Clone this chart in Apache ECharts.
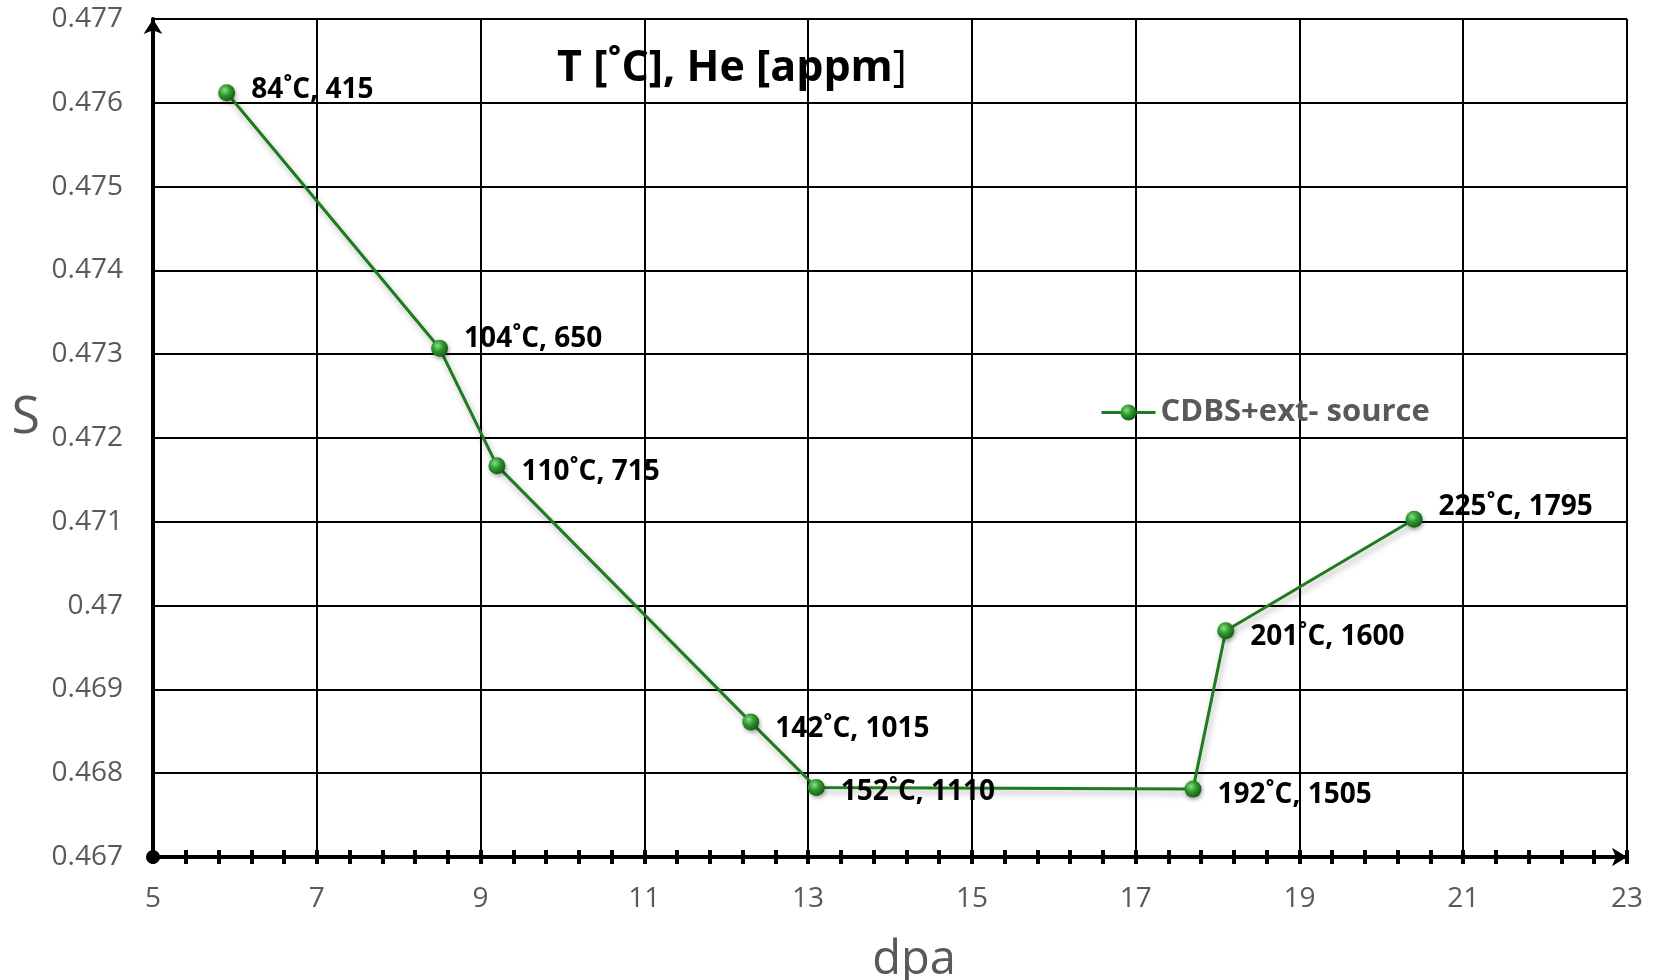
<!DOCTYPE html>
<html>
<head>
<meta charset="utf-8">
<title>S vs dpa</title>
<script src="https://cdn.jsdelivr.net/npm/echarts@6/dist/echarts.min.js"></script>
<style>
  html, body { margin: 0; padding: 0; background: #ffffff; }
  #chart { width: 1658px; height: 980px; }
</style>
</head>
<body>
<div id="chart"></div>
<script>
// Measured S parameter against damage dose, with irradiation temperature and helium content per point
const dpa = [5.9, 8.5, 9.2, 12.3, 13.1, 17.7, 18.1, 20.4];
const sParam = [0.47612, 0.47307, 0.47167, 0.46861, 0.46783, 0.46781, 0.46970, 0.47103];
const tempC = [84, 104, 110, 142, 152, 192, 201, 225];
const heAppm = [415, 650, 715, 1015, 1110, 1505, 1600, 1795];
const seriesName = 'CDBS+ext- source';

// vertical nudges for the point labels (px), kept apart from the data
const labelShift = [-3, -9, 6, 7, 5, 6, 6, -12];

const FONT = "'Open Sans', 'Noto Sans', sans-serif";
const GREY = '#595959';

const points = dpa.map((x, i) => ({
  value: [x, sParam[i]],
  label: { offset: [0, labelShift[i]] }
}));

const sphere = {
  type: 'radial', x: 0.38, y: 0.35, r: 0.7,
  colorStops: [
    { offset: 0, color: '#8edc8e' },
    { offset: 0.45, color: '#2f9a2f' },
    { offset: 1, color: '#125612' }
  ]
};

const chart = echarts.init(document.getElementById('chart'), null, { renderer: 'canvas' });

chart.setOption({
  animation: false,
  backgroundColor: '#ffffff',
  title: {
    text: '{b|T [˚C], He [appm}{r|]}',
    left: 727,
    top: 42,
    textAlign: 'center',
    textStyle: {
      rich: {
        b: { fontFamily: FONT, fontWeight: 'bold', fontSize: 43, color: '#000000' },
        r: { fontFamily: FONT, fontWeight: 'normal', fontSize: 43, color: '#000000' }
      }
    }
  },
  legend: {
    left: 1095,
    top: 392,
    itemWidth: 54,
    itemHeight: 20,
    itemGap: 10,
    lineStyle: { width: 3 },
    textStyle: { fontFamily: FONT, fontWeight: 'bold', fontSize: 31, color: GREY },
    data: [seriesName]
  },
  grid: { left: 153, right: 31, top: 19, bottom: 123, containLabel: false, outerBoundsMode: 'none' },
  xAxis: [
    {
      type: 'value',
      min: 4.999999, max: 23, interval: 2,
      name: 'dpa',
      nameLocation: 'middle',
      nameGap: 80,
      nameTextStyle: { fontFamily: FONT, fontSize: 47, color: GREY, padding: [0, 0, 0, 48] },
      axisLine: {
        show: true, onZero: false,
        symbol: ['circle', 'arrow'], symbolSize: [14, 15],
        lineStyle: { color: '#000000', width: 4 }
      },
      axisTick: { show: true, inside: false, length: 7, lineStyle: { color: '#000000', width: 4 } },
      minorTick: { show: true, splitNumber: 5, length: 7, lineStyle: { color: '#000000', width: 4 } },
      axisLabel: {
        margin: 28, fontFamily: FONT, fontSize: 28, color: GREY,
        formatter: v => String(Math.round(v))
      },
      splitLine: { show: true, lineStyle: { color: '#000000', width: 2 } }
    },
    {
      // second pass of the same scale: tick marks on the inner side of the axis
      type: 'value',
      min: 4.999999, max: 23, interval: 2,
      position: 'bottom',
      axisLine: { show: false },
      axisTick: { show: true, inside: true, length: 7, lineStyle: { color: '#000000', width: 4 } },
      minorTick: { show: true, splitNumber: 5, length: 7, lineStyle: { color: '#000000', width: 4 } },
      axisLabel: { show: false },
      splitLine: { show: false }
    }
  ],
  yAxis: {
    type: 'value',
    min: 0.467, max: 0.477, interval: 0.001,
    name: 'S',
    nameLocation: 'middle',
    nameRotate: 0,
    nameGap: 113,
    nameTextStyle: { fontFamily: FONT, fontSize: 52, color: GREY, verticalAlign: 'bottom', lineHeight: 40 },
    axisLine: {
      show: true, onZero: false,
      symbol: ['none', 'arrow'], symbolSize: [14, 15],
      lineStyle: { color: '#000000', width: 4 }
    },
    axisTick: { show: false },
    axisLabel: {
      margin: 30, fontFamily: FONT, fontSize: 28, color: GREY,
      formatter: v => String(parseFloat(v.toFixed(3)))
    },
    splitLine: { show: true, lineStyle: { color: '#000000', width: 2 } }
  },
  series: [
    {
      name: seriesName,
      type: 'line',
      xAxisIndex: 0,
      data: points,
      symbol: 'circle',
      symbolSize: 17,
      lineStyle: {
        color: '#1e7b1e', width: 3,
        shadowColor: 'rgba(0,0,0,0.3)', shadowBlur: 6, shadowOffsetX: 2, shadowOffsetY: 4
      },
      itemStyle: {
        color: sphere,
        borderWidth: 0,
        shadowColor: 'rgba(0,0,0,0.35)', shadowBlur: 4, shadowOffsetX: 1, shadowOffsetY: 2
      },
      label: {
        show: true,
        position: 'right',
        distance: 16,
        fontFamily: FONT,
        fontWeight: 'bold',
        fontSize: 28,
        color: '#000000',
        formatter: p => tempC[p.dataIndex] + '˚C, ' + heAppm[p.dataIndex]
      },
      emphasis: { disabled: true },
      z: 5
    }
  ]
});
</script>
</body>
</html>
